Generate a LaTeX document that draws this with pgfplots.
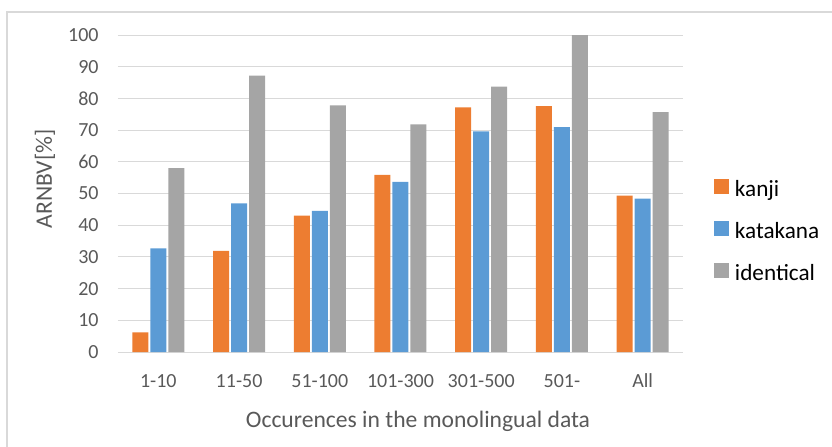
\documentclass[border=0pt]{standalone}
\usepackage{fontspec}
\setmainfont{Carlito}
\usepackage{pgfplots}
\pgfplotsset{compat=1.18}

\definecolor{cKanji}{HTML}{ED7D31}
\definecolor{cKata}{HTML}{5B9BD5}
\definecolor{cIdent}{HTML}{A5A5A5}
\definecolor{gridgray}{HTML}{D9D9D9}
\definecolor{labelgray}{HTML}{595959}

\pgfplotsset{
  sqlegend/.style={legend image code/.code={\fill[##1] (0pt,-1.25pt) rectangle (7.5pt,6.25pt);}},
}

\begin{document}
\begin{tikzpicture}
\useasboundingbox (0,0) rectangle (416pt,223pt);
% chart frame
\begin{scope}
  \clip (0,0) rectangle (416pt,223pt);
  \draw[gridgray, line width=0.75pt] (3.5pt,-5pt) -- (3.5pt,217pt) -- (430pt,217pt);
\end{scope}
\begin{axis}[
  at={(59pt,47pt)}, anchor=south west,
  scale only axis, width=282.5pt, height=158.5pt,
  ybar=1pt, bar width=8pt,
  xmin=-0.5, xmax=6.5, ymin=0, ymax=100,
  xtick={0,...,6},
  xticklabels={1-10,11-50,51-100,101-300,301-500,501-,All},
  ytick={0,10,...,100},
  ymajorgrids, grid style={gridgray, line width=0.5pt},
  axis line style={draw=none}, major tick length=0pt,
  /pgf/number format/assume math mode=true,
  ticklabel style={font=\fontsize{10}{12}\selectfont, text=labelgray},
  yticklabel style={anchor=east, inner sep=0pt, xshift=-9.5pt},
  xticklabel style={anchor=base, inner sep=0pt, yshift=-17.5pt},
  xlabel={Occurences in the monolingual data},
  ylabel={ARNBV[\%]},
  label style={font=\fontsize{11.8}{14}\selectfont, text=labelgray, inner sep=0pt},
  xlabel style={at={(axis description cs:0.531,-0.2397)}, anchor=base},
  ylabel style={at={(axis description cs:-0.1292,0.546)}, anchor=center},
  legend style={at={(axis description cs:1,0.377)}, anchor=west, xshift=15.5pt,
    draw=none, fill=none, inner sep=0pt, outer sep=0pt,
    row sep=9.5pt, column sep=3pt,
    font=\fontsize{11.6}{14}\selectfont, text=black,
    nodes={inner sep=0pt, text height=8pt, text depth=2.5pt}},
  legend cell align=left,
]
\addplot[fill=cKanji, draw=none, sqlegend] coordinates
  {(0,6.2) (1,31.9) (2,43.0) (3,55.9) (4,77.2) (5,77.6) (6,49.3)};
\addplot[fill=cKata, draw=none, sqlegend] coordinates
  {(0,32.7) (1,46.9) (2,44.5) (3,53.7) (4,69.6) (5,70.9) (6,48.4)};
\addplot[fill=cIdent, draw=none, sqlegend] coordinates
  {(0,58.0) (1,87.2) (2,77.8) (3,71.8) (4,83.7) (5,100) (6,75.7)};
\legend{kanji,katakana,identical}
\end{axis}
\end{tikzpicture}
\end{document}
